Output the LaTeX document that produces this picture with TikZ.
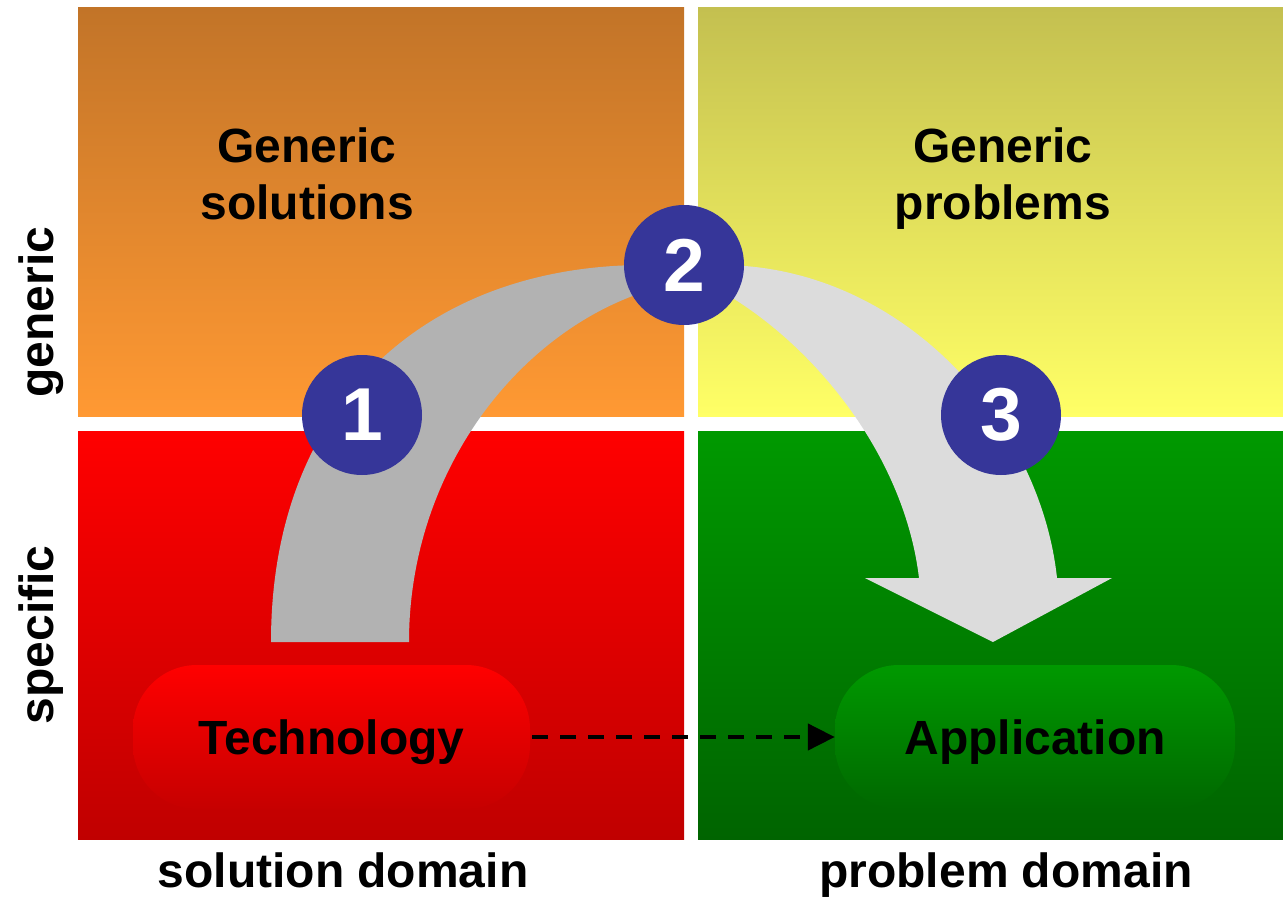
\documentclass[tikz,border=0pt]{standalone}
\usepackage{fontspec}
\setmainfont{Liberation Sans}
\usetikzlibrary{arrows.meta}
\definecolor{tlTop}{RGB}{194,116,40}
\definecolor{tlBot}{RGB}{255,153,51}
\definecolor{trTop}{RGB}{196,192,80}
\definecolor{trBot}{RGB}{255,255,102}
\definecolor{blTop}{RGB}{255,0,0}
\definecolor{blBot}{RGB}{192,0,0}
\definecolor{brTop}{RGB}{0,153,0}
\definecolor{brBot}{RGB}{0,100,0}
\definecolor{grayA}{RGB}{178,178,178}
\definecolor{grayB}{RGB}{220,220,220}
\definecolor{numblue}{RGB}{54,54,153}
\definecolor{techBot}{RGB}{198,0,0}
\definecolor{appBot}{RGB}{0,104,0}
\begin{document}
\begin{tikzpicture}[x=1pt,y=-1pt,
  quad/.style={draw=none,inner sep=0pt,outer sep=0pt,rectangle},
  bigtext/.style={font=\fontsize{48}{57}\selectfont\bfseries,inner sep=0pt,align=center},
  numc/.style={circle,fill=numblue,minimum size=120pt,inner sep=0pt,text=white,font=\fontsize{75}{80}\selectfont\bfseries},
  pill/.style={rounded corners=64pt,minimum height=144pt,inner sep=0pt,text depth=0pt,font=\fontsize{48}{57}\selectfont\bfseries},
  dasharrow/.style={line width=4.5pt,dash pattern=on 16pt off 12pt,-{Triangle[length=27pt,width=26pt]}}
]
\useasboundingbox (0,0) rectangle (1283,899);
% quadrants
\node[quad,top color=tlTop,bottom color=tlBot,minimum width=606pt,minimum height=408pt] (qtl) at (381,212) {};
\node[quad,top color=trTop,bottom color=trBot,minimum width=585pt,minimum height=408pt] (qtr) at (990.5,212) {};
\node[quad,top color=blTop,bottom color=blBot,minimum width=606pt,minimum height=408pt] (qbl) at (381,635) {};
\node[quad,top color=brTop,bottom color=brBot,minimum width=585pt,minimum height=408pt] (qbr) at (990.5,635) {};
% big curved arrows
\fill[grayA] (271,642) .. controls (271,400) and (430,265) .. (645,265) -- (650,290)
  .. controls (520,330) and (409,470) .. (409,642) -- cycle;
\fill[grayB] (720,265) .. controls (900,265) and (1040,420) .. (1057,578) -- (1112,578)
  -- (993,642) -- (865,578) -- (919,578) .. controls (905,460) and (820,350) .. (726,294) -- cycle;
% numbered circles
\node[numc] (n1) at (362,415) {1};
\node[numc] (n2) at (684,265) {2};
\node[numc] (n3) at (1001,415) {3};
% pills
\node[pill,top color=blTop,bottom color=techBot,minimum width=397pt] (tech) at (331.5,737) {Technology};
\node[pill,top color=brTop,bottom color=appBot,minimum width=400pt] (app) at (1035,737) {Application};
\draw[dasharrow] ([xshift=2pt]tech.east) -- (app.west);
% quadrant texts
\node[bigtext,anchor=north] (gs) at (307,128) {Generic\\solutions};
\node[bigtext,anchor=north] (gp) at (1003,128) {Generic\\problems};
% axis labels
\node[bigtext,anchor=base,rotate=90] (lg) at (53,312) {generic};
\node[bigtext,anchor=base,rotate=90] (ls) at (53,635) {specific};
\node[bigtext,anchor=base] (lsd) at (343,887) {solution domain};
\node[bigtext,anchor=base] (lpd) at (1006,887) {problem domain};
\end{tikzpicture}
\end{document}
